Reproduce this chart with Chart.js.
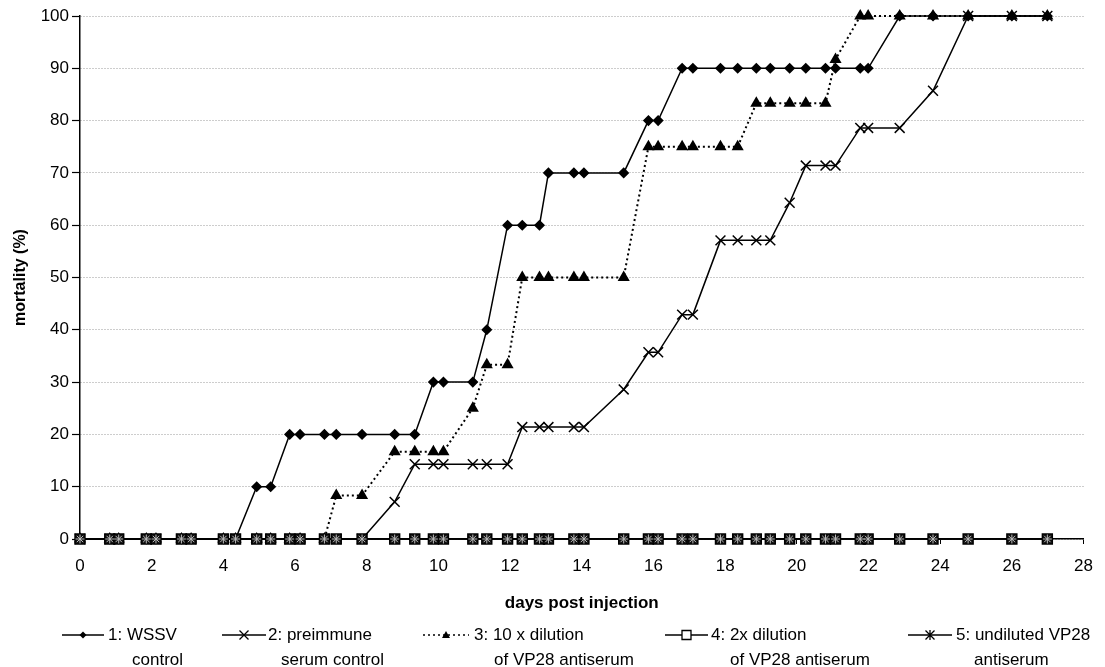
<!DOCTYPE html>
<html>
<head>
<meta charset="utf-8">
<script src="https://cdn.jsdelivr.net/npm/chart.js"></script>
<style>
  html, body { margin: 0; padding: 0; background: #fff; }
  canvas { display: block; }
</style>
</head>
<body>
<canvas id="mortalityChart" width="1105" height="667"></canvas>
<script>
Chart.defaults.font.family = "'Liberation Sans', Arial, Helvetica, sans-serif";
Chart.defaults.color = '#000';

// days post injection at which mortality was checked
var days = [0, 0.83, 1.08, 1.85, 2.12, 2.83, 3.1, 4.0, 4.34, 4.93, 5.32, 5.85, 6.14, 6.82, 7.15, 7.87,
            8.78, 9.34, 9.86, 10.14, 10.96, 11.35, 11.93, 12.34, 12.82, 13.07, 13.78, 14.06, 15.17,
            15.86, 16.13, 16.8, 17.1, 17.87, 18.35, 18.87, 19.26, 19.8, 20.25, 20.8, 21.08, 21.77,
            21.99, 22.87, 23.8, 24.78, 26.0, 26.99];

// cumulative mortality (%)
var wssvControl = [0, 0, 0, 0, 0, 0, 0, 0, 0, 10, 10, 20, 20, 20, 20, 20, 20, 20, 30, 30, 30, 40,
                   60, 60, 60, 70, 70, 70, 70, 80, 80, 90, 90, 90, 90, 90, 90, 90, 90, 90, 90, 90,
                   90, 100, 100, 100, 100, 100];
var preimmune = [0, 0, 0, 0, 0, 0, 0, 0, 0, 0, 0, 0, 0, 0, 0, 0, 7.1, 14.3, 14.3, 14.3, 14.3, 14.3,
                 14.3, 21.4, 21.4, 21.4, 21.4, 21.4, 28.6, 35.7, 35.7, 42.9, 42.9, 57.1, 57.1, 57.1,
                 57.1, 64.3, 71.4, 71.4, 71.4, 78.6, 78.6, 78.6, 85.7, 100, 100, 100];
var dilution10x = [0, 0, 0, 0, 0, 0, 0, 0, 0, 0, 0, 0, 0, 0, 8.3, 8.3, 16.7, 16.7, 16.7, 16.7, 25,
                   33.3, 33.3, 50, 50, 50, 50, 50, 50, 75, 75, 75, 75, 75, 75, 83.3, 83.3, 83.3,
                   83.3, 83.3, 91.7, 100, 100, 100, 100, 100, 100, 100];
var dilution2x = [0, 0, 0, 0, 0, 0, 0, 0, 0, 0, 0, 0, 0, 0, 0, 0, 0, 0, 0, 0, 0, 0, 0, 0,
                  0, 0, 0, 0, 0, 0, 0, 0, 0, 0, 0, 0, 0, 0, 0, 0, 0, 0, 0, 0, 0, 0, 0, 0];
var undiluted = [0, 0, 0, 0, 0, 0, 0, 0, 0, 0, 0, 0, 0, 0, 0, 0, 0, 0, 0, 0, 0, 0, 0, 0,
                 0, 0, 0, 0, 0, 0, 0, 0, 0, 0, 0, 0, 0, 0, 0, 0, 0, 0, 0, 0, 0, 0, 0, 0];

var seriesNames = [
    ['1: WSSV', 'control'],
    ['2: preimmune', 'serum control'],
    ['3: 10 x dilution', 'of VP28 antiserum'],
    ['4: 2x dilution', 'of VP28 antiserum'],
    ['5: undiluted VP28', 'antiserum']
];

var xTicks = [0, 2, 4, 6, 8, 10, 12, 14, 16, 18, 20, 22, 24, 26, 28];
var yTicks = [0, 10, 20, 30, 40, 50, 60, 70, 80, 90, 100];

function toPoints(values) {
    return days.map(function (d, i) { return { x: d, y: values[i] }; });
}

// legend is drawn by hand: two-line entries like the original figure
function drawMarker(ctx, style, x, y) {
    ctx.save();
    ctx.setLineDash([]);
    ctx.strokeStyle = '#000';
    ctx.fillStyle = '#000';
    ctx.lineWidth = 1.3;
    ctx.beginPath();
    if (style === 'rectRot') {
        ctx.moveTo(x, y - 3.5); ctx.lineTo(x + 3.5, y); ctx.lineTo(x, y + 3.5); ctx.lineTo(x - 3.5, y);
        ctx.closePath(); ctx.fill();
    } else if (style === 'crossRot') {
        ctx.moveTo(x - 4.5, y - 4.5); ctx.lineTo(x + 4.5, y + 4.5);
        ctx.moveTo(x + 4.5, y - 4.5); ctx.lineTo(x - 4.5, y + 4.5);
        ctx.stroke();
    } else if (style === 'triangle') {
        ctx.moveTo(x, y - 4); ctx.lineTo(x + 4, y + 3); ctx.lineTo(x - 4, y + 3);
        ctx.closePath(); ctx.fill();
    } else if (style === 'rect') {
        ctx.fillStyle = '#fff';
        ctx.rect(x - 4.5, y - 4.5, 9, 9); ctx.fill(); ctx.stroke();
    } else if (style === 'star') {
        ctx.moveTo(x - 4.5, y - 4.5); ctx.lineTo(x + 4.5, y + 4.5);
        ctx.moveTo(x + 4.5, y - 4.5); ctx.lineTo(x - 4.5, y + 4.5);
        ctx.moveTo(x, y - 5); ctx.lineTo(x, y + 5);
        ctx.stroke();
    }
    ctx.restore();
}

var legendPlugin = {
    id: 'twoLineLegend',
    afterDraw: function (chart) {
        var ctx = chart.ctx;
        // [line start, line end, first line x, second line x]
        var slots = [[62, 104, 108, 132], [222, 266, 268, 281], [423, 469, 474, 494],
                     [665, 708, 711, 730], [908, 952, 956, 974]];
        var y1 = 635, y2 = 660;
        ctx.save();
        ctx.font = '17px ' + Chart.defaults.font.family;
        ctx.fillStyle = '#000';
        ctx.textBaseline = 'middle';
        chart.data.datasets.forEach(function (ds, i) {
            var s = slots[i];
            ctx.beginPath();
            ctx.setLineDash(ds.borderDash || []);
            ctx.lineWidth = 1.5;
            ctx.strokeStyle = '#000';
            ctx.moveTo(s[0], y1);
            ctx.lineTo(s[1], y1);
            ctx.stroke();
            drawMarker(ctx, ds.pointStyle, (s[0] + s[1]) / 2, y1);
            ctx.fillText(seriesNames[i][0], s[2], y1);
            ctx.fillText(seriesNames[i][1], s[3], y2);
        });
        ctx.restore();
    }
};

var ctx = document.getElementById('mortalityChart').getContext('2d');

var mortalityChart = new Chart(ctx, {
    type: 'line',
    data: {
        datasets: [{
            label: seriesNames[0].join(' '),
            data: toPoints(wssvControl),
            borderColor: '#000',
            borderWidth: 1.5,
            pointStyle: 'rectRot',
            pointRadius: 4.5,
            pointBackgroundColor: '#000',
            pointBorderColor: '#000',
            order: 4
        }, {
            label: seriesNames[1].join(' '),
            data: toPoints(preimmune),
            borderColor: '#000',
            borderWidth: 1.5,
            pointStyle: 'crossRot',
            pointRadius: 7,
            pointBorderWidth: 1.5,
            pointBorderColor: '#000',
            order: 3
        }, {
            label: seriesNames[2].join(' '),
            data: toPoints(dilution10x),
            borderColor: '#000',
            borderWidth: 2,
            borderDash: [2, 3],
            pointStyle: 'triangle',
            pointRadius: 5,
            pointBackgroundColor: '#000',
            pointBorderColor: '#000',
            order: 2
        }, {
            label: seriesNames[3].join(' '),
            data: toPoints(dilution2x),
            borderColor: '#000',
            borderWidth: 1.5,
            pointStyle: 'rect',
            pointRadius: 7,
            pointBackgroundColor: '#111',
            pointBorderColor: '#000',
            order: 1
        }, {
            label: seriesNames[4].join(' '),
            data: toPoints(undiluted),
            borderColor: '#000',
            borderWidth: 1.5,
            pointStyle: 'star',
            pointRadius: 4.5,
            pointBorderWidth: 1,
            pointBorderColor: '#bbb',
            order: 0
        }]
    },
    options: {
        responsive: false,
        animation: false,
        clip: false,
        layout: { padding: { top: 16, right: 12, bottom: 53, left: 0 } },
        plugins: {
            legend: { display: false },
            tooltip: { enabled: false }
        },
        scales: {
            x: {
                type: 'linear',
                min: 0,
                max: 28,
                afterBuildTicks: function (s) { s.ticks = xTicks.map(function (v) { return { value: v }; }); },
                afterFit: function (s) { s.height = 75; },
                ticks: { font: { size: 17 }, padding: 12, maxRotation: 0, color: '#000' },
                grid: { drawOnChartArea: false, drawTicks: true, tickLength: 5, tickColor: '#000' },
                border: { color: '#000', width: 1.5 },
                title: {
                    display: true,
                    text: 'days post injection',
                    color: '#000',
                    font: { size: 17, weight: 'bold' },
                    padding: { top: 10, bottom: 0 }
                }
            },
            y: {
                min: 0,
                max: 100,
                afterBuildTicks: function (s) { s.ticks = yTicks.map(function (v) { return { value: v }; }); },
                afterFit: function (s) { s.width = 80; },
                ticks: { font: { size: 17 }, padding: 3, color: '#000' },
                grid: { color: '#9a9a9a', lineWidth: 1, tickLength: 8, tickColor: '#000', tickWidth: 1.2 },
                border: { color: '#000', width: 1.5, dash: [1, 2] },
                title: {
                    display: true,
                    text: 'mortality (%)',
                    color: '#000',
                    font: { size: 16, weight: 'bold' },
                    padding: { top: 11, bottom: 0 }
                }
            }
        }
    },
    plugins: [legendPlugin]
});
</script>
</body>
</html>
